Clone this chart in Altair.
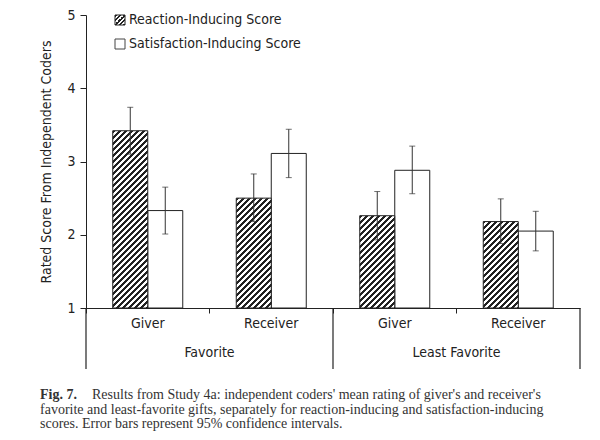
import altair as alt
import pandas as pd

# ---- data ----
groups = ["Favorite", "Favorite", "Least Favorite", "Least Favorite"]
roles = ["Giver", "Receiver", "Giver", "Receiver"]
score_types = ["Reaction-Inducing Score", "Satisfaction-Inducing Score"]

reaction = [3.42, 2.50, 2.26, 2.18]
reaction_lo = [3.10, 2.18, 1.93, 1.88]
reaction_hi = [3.74, 2.83, 2.59, 2.49]

satisfaction = [2.33, 3.11, 2.88, 2.05]
satisfaction_lo = [2.01, 2.78, 2.56, 1.78]
satisfaction_hi = [2.65, 3.44, 3.21, 2.32]

y_ticks = [1, 2, 3, 4, 5]
y_title = "Rated Score From Independent Coders"
caption_bold = "Fig. 7."
caption_lines = [
    "Results from Study 4a: independent coders' mean rating of giver's and receiver's",
    "favorite and least-favorite gifts, separately for reaction-inducing and satisfaction-inducing",
    "scores. Error bars represent 95% confidence intervals.",
]

# ---- tables ----
cells = [f"{g}|{r}" for g, r in zip(groups, roles)]
rows = []
for i, c in enumerate(cells):
    rows.append(dict(cell=c, type=score_types[0], value=reaction[i], lo=reaction_lo[i], hi=reaction_hi[i], base=1))
    rows.append(dict(cell=c, type=score_types[1], value=satisfaction[i], lo=satisfaction_lo[i], hi=satisfaction_hi[i], base=1))
df = pd.DataFrame(rows)

W, H = 494, 293
FONT = "Liberation Sans Narrow, Arial Narrow, DejaVu Sans Condensed, sans-serif"
SERIF = "Liberation Serif, Times New Roman, serif"
INK = "#222222"
BAR_W = 35.0
PX_PER_UNIT = H / (y_ticks[-1] - y_ticks[0])

x_enc = alt.X("cell:N", scale=alt.Scale(domain=cells, paddingInner=0, paddingOuter=0),
              axis=alt.Axis(title=None, labelExpr="split(datum.label, '|')[1]", bandPosition=0,
                            tickSize=5, labelPadding=3, labelAngle=0, labelFont=FONT,
                            labelFontSize=14, labelColor=INK, domainColor=INK, tickColor=INK))
pad_off = (W / len(cells) / BAR_W - 2) / 2
xo_enc = alt.XOffset("type:N", scale=alt.Scale(domain=score_types, paddingInner=0, paddingOuter=pad_off))
y_enc = alt.Y("value:Q", scale=alt.Scale(domain=[1, 5], nice=False, zero=False),
              axis=alt.Axis(values=y_ticks, format="d", title=y_title, grid=False, tickSize=6, labelPadding=5,
                            labelFont=FONT, labelFontSize=14, labelColor=INK, titleFont=FONT,
                            titleFontSize=14, titleFontWeight="normal", titleColor=INK, titlePadding=13,
                            domainColor=INK, tickColor=INK))


def hatch_fill(h_px, w_px, period=6.0, frac=0.45):
    s_total = w_px + h_px
    a = s_total / (w_px ** 2 + h_px ** 2)
    stops = []
    k = 0
    while k * period < s_total:
        o0 = k * period / s_total
        o1 = min((k * period + frac * period) / s_total, 1)
        o2 = min((k + 1) * period / s_total, 1)
        stops += [alt.GradientStop(offset=o0, color=INK), alt.GradientStop(offset=o1, color=INK),
                  alt.GradientStop(offset=o1, color="white"), alt.GradientStop(offset=o2, color="white")]
        k += 1
    return alt.LinearGradient(gradient="linear", stops=stops, x1=0, y1=0, x2=w_px * a, y2=h_px * a)


base = alt.Chart(df)

white_bars = base.transform_filter(alt.datum.type == score_types[1]).mark_bar(
    fill="white", stroke=INK, strokeWidth=1
).encode(x=x_enc, xOffset=xo_enc, y=y_enc, y2="base:Q")

hatched_layers = []
for i, c in enumerate(cells):
    hpx = (reaction[i] - 1) * PX_PER_UNIT
    hatched_layers.append(
        base.transform_filter((alt.datum.type == score_types[0]) & (alt.datum.cell == c)).mark_bar(
            fill=hatch_fill(hpx, BAR_W), stroke=INK, strokeWidth=1
        ).encode(x=x_enc, xOffset=xo_enc, y=y_enc, y2="base:Q")
    )

err_rule = base.mark_rule(color="#333333", strokeWidth=1).encode(
    x=x_enc, xOffset=xo_enc, y=alt.Y("lo:Q"), y2="hi:Q")
cap_lo = base.mark_tick(color="#333333", thickness=1, size=6).encode(x=x_enc, xOffset=xo_enc, y=alt.Y("lo:Q"))
cap_hi = base.mark_tick(color="#333333", thickness=1, size=6).encode(x=x_enc, xOffset=xo_enc, y=alt.Y("hi:Q"))

# frame lines under the axis
frame_left = alt.Chart(pd.DataFrame({"cell": [cells[0], cells[2]]})).mark_rule(color=INK, strokeWidth=1.2).encode(
    x=alt.X("cell:N", bandPosition=0), y=alt.value(H), y2=alt.value(H + 61))
frame_right = alt.Chart(pd.DataFrame({"cell": [cells[3]]})).mark_rule(color=INK, strokeWidth=1.2).encode(
    x=alt.X("cell:N", bandPosition=1), y=alt.value(H), y2=alt.value(H + 61))
group_labels = alt.Chart(pd.DataFrame({"cell": [cells[1], cells[3]], "label": [groups[0], groups[2]]})).mark_text(
    font=FONT, fontSize=14, color=INK, baseline="middle").encode(
    x=alt.X("cell:N", bandPosition=0), y=alt.value(H + 45), text="label:N")

# legend
leg_hatch = alt.Chart(pd.DataFrame({"t": [score_types[0]]})).mark_rect(
    fill=hatch_fill(10, 10, period=4.5, frac=0.45), stroke=INK, strokeWidth=1).encode(
    x=alt.value(29), x2=alt.value(39), y=alt.value(0), y2=alt.value(10))
leg_white = alt.Chart(pd.DataFrame({"t": [score_types[1]]})).mark_rect(
    fill="white", stroke="#444444", strokeWidth=1).encode(
    x=alt.value(29), x2=alt.value(39), y=alt.value(24), y2=alt.value(34))
leg_t1 = alt.Chart(pd.DataFrame({"t": [score_types[0]]})).mark_text(
    font=FONT, fontSize=14, color=INK, align="left", baseline="middle").encode(
    x=alt.value(43), y=alt.value(5), text="t:N")
leg_t2 = alt.Chart(pd.DataFrame({"t": [score_types[1]]})).mark_text(
    font=FONT, fontSize=14, color=INK, align="left", baseline="middle").encode(
    x=alt.value(43), y=alt.value(29), text="t:N")

# caption
CAP_Y0 = 380
cap_b = alt.Chart(pd.DataFrame({"t": [caption_bold]})).mark_text(
    font=SERIF, fontSize=14, fontWeight="bold", color="#333333", align="left", baseline="middle").encode(
    x=alt.value(-46), y=alt.value(CAP_Y0), text="t:N")
cap_layers = []
for j, (line, cx) in enumerate(zip(caption_lines, [6, -46, -46])):
    cap_layers.append(alt.Chart(pd.DataFrame({"t": [line]})).mark_text(
        font=SERIF, fontSize=14, color="#333333", align="left", baseline="middle").encode(
        x=alt.value(cx), y=alt.value(CAP_Y0 + 14.5 * j), text="t:N"))

chart = alt.layer(
    white_bars, *hatched_layers, err_rule, cap_lo, cap_hi,
    frame_left, frame_right, group_labels,
    leg_hatch, leg_white, leg_t1, leg_t2, cap_b, *cap_layers,
).properties(
    width=W, height=H,
    autosize=alt.AutoSizeParams(type="none"),
    padding={"left": 78, "top": 7, "right": 12, "bottom": 130},
    background="white",
).configure_view(stroke=None)

chart.save("out.html", embed_options={"renderer": "svg", "actions": False})
